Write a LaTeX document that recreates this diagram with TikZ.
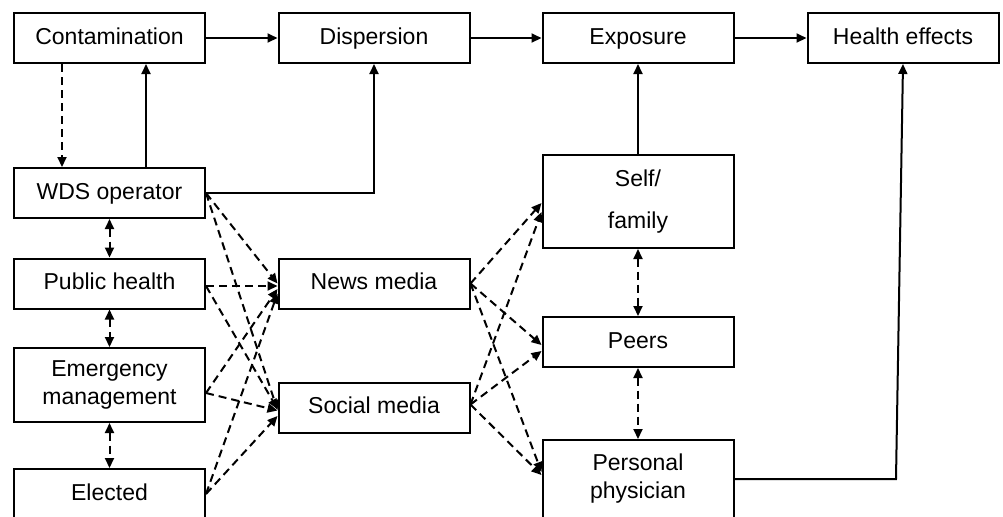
\documentclass[tikz,border=0pt]{standalone}
\usepackage{fontspec}
\setmainfont{Liberation Sans}
\usetikzlibrary{arrows.meta}

\tikzset{
  boxbase/.style={draw, line width=1pt, minimum width=95.5pt, minimum height=25pt,
    inner sep=0pt, align=center, font=\fontsize{11.5}{14}\selectfont},
  box/.style={boxbase, text height=8.5pt, text depth=2.5pt},
  link/.style={line width=1pt, -{Triangle[length=5pt,width=4.5pt]}},
  dlink/.style={link, dash pattern=on 4pt off 2.5pt},
  twoway/.style={dlink, {Triangle[length=5pt,width=4.5pt]}-{Triangle[length=5pt,width=4.5pt]}}
}

\begin{document}
\begin{tikzpicture}[x=0.5pt,y=-0.5pt]
            \def\xa{109.5};
            \def\xb{374};
            \def\xc{638};
            \def\xd{903};

            \def \ya{38};
            \def \yb{193};
            \def \yc{283.5};
            \def \yd{385};
            \def \ye{494};
            \def \yf{407.5};
            \def \yg{201.5};
            \def \yh{342};
            \def \yi{479};

            \useasboundingbox (0,0) rectangle (1003,516);

            \node[box] (cont) at (\xa, \ya) {Contamination};
            \node[box] (disp) at (\xb, \ya) {Dispersion};
            \node[box] (expo) at (\xc, \ya) {Exposure};
            \node[box] (health) at (\xd, \ya) {Health effects};

            \node[box] (wds) at (\xa, \yb) {WDS operator};
            \node[box] (pub) at (\xa, \yc) {Public health};
            \node[boxbase, minimum height=37pt] (emg) at (\xa, \yd) {Emergency\\management};
            \node[box] (elect) at (\xa, \ye) {Elected};

            \node[box] (news) at (\xb, \yc) {News media};
            \node[box] (social) at (\xb, \yf) {Social media};

            \node[boxbase, minimum height=46.5pt, font=\fontsize{11.5}{21}\selectfont] (self) at (\xc, \yg) {Self/\\family};
            \node[box] (peers) at (\xc, \yh) {Peers};
            \node[boxbase, minimum height=39pt] (phys) at (\xc, \yi) {Personal\\physician};

            \coordinate (bend) at (896, \yi);

            \draw[link] (cont.east) -- (disp.west);
            \draw[link] (disp.east) -- (expo.west);
            \draw[link] (expo.east) -- (health.west);

            \draw[dlink] ([xshift=-23.75pt]cont.south) -- ([xshift=-23.75pt]wds.north);
            \draw[link] ([xshift=18.25pt]wds.north) -- ([xshift=18.25pt]cont.south);
            \draw[link] (wds.east) -| (disp.south);
            \draw[link] (self.north) -- (expo.south);
            \draw[link] (phys.east) -- (bend) -- (health.south);

            \draw[twoway] (wds.south) -- (pub.north);
            \draw[twoway] (pub.south) -- (emg.north);
            \draw[twoway] (emg.south) -- (elect.north);
            \draw[twoway] (self.south) -- (peers.north);
            \draw[twoway] (peers.south) -- (phys.north);

            \draw[dlink] (wds.east) -- (news.west);
            \draw[dlink] (wds.east) -- ([yshift=-1.25pt]social.west);
            \draw[dlink] ([yshift=-1.25pt]pub.east) -- ([yshift=-1.25pt]news.west);
            \draw[dlink] ([yshift=-1.25pt]pub.east) -- ([yshift=-0.75pt]social.west);
            \draw[dlink] ([yshift=-4pt]emg.east) -- ([yshift=-2.75pt]news.west);
            \draw[dlink] ([yshift=-4pt]emg.east) -- ([yshift=-1.5pt]social.west);
            \draw[dlink] (elect.east) -- ([yshift=-5pt]news.west);
            \draw[dlink] (elect.east) -- ([yshift=-4.25pt]social.west);

            \draw[dlink] (news.east) -- ([yshift=-0.75pt]self.west);
            \draw[dlink] ([yshift=1.5pt]social.east) -- ([yshift=-5.25pt]self.west);
            \draw[dlink] (news.east) -- ([yshift=-1.5pt]peers.west);
            \draw[dlink] ([yshift=1.5pt]social.east) -- ([yshift=-4.5pt]peers.west);
            \draw[dlink] (news.east) -- ([yshift=3.5pt]phys.west);
            \draw[dlink] ([yshift=1.5pt]social.east) -- ([yshift=2pt]phys.west);

        \end{tikzpicture}
\end{document}
